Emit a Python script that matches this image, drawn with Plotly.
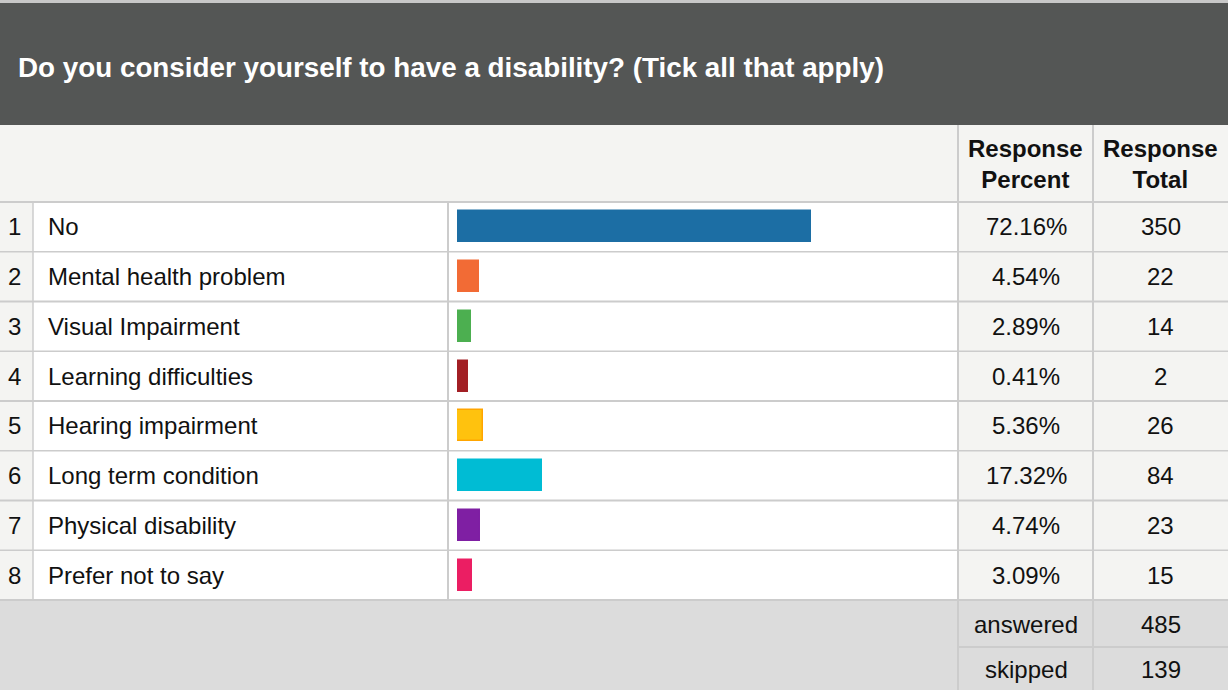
import plotly.graph_objects as go

# ---- data ----
title = "Do you consider yourself to have a disability? (Tick all that apply)"
row_numbers = [1, 2, 3, 4, 5, 6, 7, 8]
categories = ["No", "Mental health problem", "Visual Impairment", "Learning difficulties",
              "Hearing impairment", "Long term condition", "Physical disability", "Prefer not to say"]
percents = [72.16, 4.54, 2.89, 0.41, 5.36, 17.32, 4.74, 3.09]
totals = [350, 22, 14, 2, 26, 84, 23, 15]
bar_colors = ["#1c6ea4", "#f26b35", "#4caf50", "#a21f24", "#ffc20e", "#00bcd4", "#7f1fa3", "#eb1e63"]
bar_edges = ["#1c6ea4", "#f26b35", "#4caf50", "#a21f24", "#ffa500", "#00bcd4", "#7f1fa3", "#eb1e63"]
header_labels = ["Response<br>Percent", "Response<br>Total"]
summary_labels = ["answered", "skipped"]
summary_values = [485, 139]

W, H = 1228, 690
FONT = "Liberation Sans, Arial, sans-serif"
FS = 24
GRID = "#cccccc"
LIGHT = "#f4f4f2"
MIN_BAR_PCT = 2.2  # survey tool draws a minimum visible bar width


def px(x):
    return x / W


def py(y):
    return 1 - y / H


# column edges (pixels)
c_num, c_lab, c_bar, c_pct, c_tot, c_end = 0, 33, 448, 958, 1093, 1228
top_table, top_rows, bot_rows = 125, 202, 600

fig = go.Figure()

fig.add_trace(go.Bar(
    x=[max(p, MIN_BAR_PCT) for p in percents], y=row_numbers, orientation="h",
    marker=dict(color=bar_colors, line=dict(color=bar_edges, width=1.5)),
    width=0.62, hoverinfo="skip", showlegend=False,
))

shapes = []


def rect(x0, y0, x1, y1, color):
    shapes.append(dict(type="rect", xref="paper", yref="paper",
                       x0=px(x0), x1=px(x1), y0=py(y0), y1=py(y1),
                       fillcolor=color, line=dict(width=0), layer="below"))


def hline(x0, x1, y, width=1.5):
    shapes.append(dict(type="line", xref="paper", yref="paper", x0=px(x0), x1=px(x1),
                       y0=py(y), y1=py(y), line=dict(color=GRID, width=width), layer="below"))


def vline(x, y0, y1, width=2):
    shapes.append(dict(type="line", xref="paper", yref="paper", x0=px(x), x1=px(x),
                       y0=py(y0), y1=py(y1), line=dict(color=GRID, width=width), layer="below"))


# backgrounds
rect(0, 0, W, 3, "#c8c8c8")
rect(0, 3, W, top_table, "#545655")
rect(0, top_table, W, top_rows, LIGHT)
rect(c_num, top_rows, c_lab, bot_rows, LIGHT)
rect(c_lab, top_rows, c_pct, bot_rows, "#ffffff")
rect(c_pct, top_rows, c_end, bot_rows, LIGHT)
rect(0, bot_rows, W, H, "#dcdcdc")

# grid lines
n = len(categories)
row_h = (bot_rows - top_rows) / n
for i in range(n + 1):
    hline(0, W, top_rows + i * row_h, 1.5 if i % 2 else 2)
hline(c_pct, c_end, 647, 2)
vline(c_lab, top_rows, bot_rows, 1.5)
vline(c_bar, top_rows, bot_rows, 2)
vline(c_pct, top_table, H, 2)
vline(c_tot, top_table, H, 2)

annotations = []


def text(s, x, y, xanchor="center", bold=False, color="#111111", size=FS, yref="paper"):
    annotations.append(dict(text=f"<b>{s}</b>" if bold else s, x=px(x), y=py(y) if yref == "paper" else y,
                            xref="paper", yref=yref, xanchor=xanchor, yanchor="middle",
                            showarrow=False, font=dict(family=FONT, size=size, color=color)))


text(title, 16, 67, xanchor="left", bold=True, color="#ffffff", size=27.8)
text(header_labels[0], (c_pct + c_tot) / 2, 164, bold=True, size=24)
text(header_labels[1], (c_tot + c_end) / 2, 164, bold=True, size=24)

for num, cat, pct, tot in zip(row_numbers, categories, percents, totals):
    text(str(num), 14, num, yref="y")
    text(cat, 46, num, xanchor="left", yref="y")
    text(f"{pct:.2f}%", (c_pct + c_tot) / 2 + 0.5, num, yref="y")
    text(str(tot), (c_tot + c_end) / 2, num, yref="y")

for lab, val, yc in zip(summary_labels, summary_values, [624, 669]):
    text(lab, (c_pct + c_tot) / 2 + 0.5, yc)
    text(str(val), (c_tot + c_end) / 2, yc)

fig.update_layout(
    width=W, height=H, margin=dict(l=0, r=0, t=0, b=0),
    paper_bgcolor="#ffffff", plot_bgcolor="rgba(0,0,0,0)",
    shapes=shapes, annotations=annotations, bargap=0,
    xaxis=dict(domain=[px(457), px(947)], range=[0, 100], visible=False, fixedrange=True),
    yaxis=dict(domain=[py(bot_rows), py(top_rows)], range=[n + 0.5, 0.5], visible=False, fixedrange=True),
)

fig.write_html("out.html", config={"displayModeBar": False})
